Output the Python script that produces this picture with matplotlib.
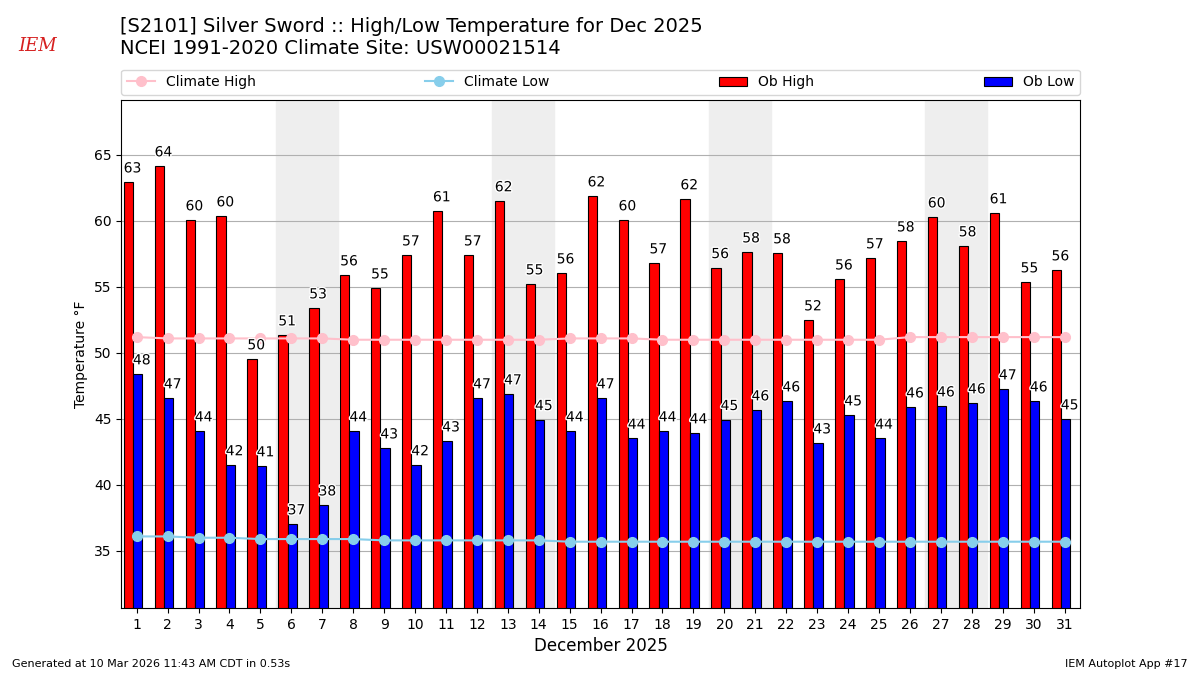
import matplotlib

matplotlib.use("Agg")
import matplotlib.pyplot as plt
import matplotlib.patheffects as pe
import numpy as np

DAYS = np.arange(1, 32)
OB_HIGH = [
    62.95, 64.17, 60.08, 60.38, 49.55, 51.36, 53.41, 55.91, 54.92, 57.42,
    60.76, 57.42, 61.52, 55.23, 56.06, 61.89, 60.08, 56.82, 61.67, 56.46,
    57.65, 57.58, 52.50, 55.60, 57.20, 58.48, 60.30, 58.11, 60.61, 55.38,
    56.29,
]
OB_LOW = [
    48.41, 46.59, 44.09, 41.52, 41.44, 37.05, 38.48, 44.09, 42.80, 41.52,
    43.33, 46.59, 46.89, 44.95, 44.09, 46.59, 43.53, 44.09, 43.94, 44.95,
    45.68, 46.36, 43.18, 45.30, 43.53, 45.90, 45.98, 46.21, 47.27, 46.36,
    45.00,
]
CLIMATE_HIGH = [
    51.2, 51.1, 51.1, 51.1, 51.1, 51.1, 51.1, 51.0, 51.0, 51.0,
    51.0, 51.0, 51.0, 51.0, 51.1, 51.1, 51.1, 51.0, 51.0, 51.0,
    51.0, 51.0, 51.0, 51.0, 51.0, 51.2, 51.2, 51.2, 51.2, 51.2,
    51.2,
]
CLIMATE_LOW = [
    36.1, 36.1, 36.0, 36.0, 35.9, 35.9, 35.9, 35.9, 35.8, 35.8,
    35.8, 35.8, 35.8, 35.8, 35.7, 35.7, 35.7, 35.7, 35.7, 35.7,
    35.7, 35.7, 35.7, 35.7, 35.7, 35.7, 35.7, 35.7, 35.7, 35.7,
    35.7,
]
WEEKENDS = [6, 13, 20, 27]


def label_bars(ax, xs, values):
    for x, val in zip(xs, values):
        ax.text(
            x, val + 0.5, f"{val:.0f}", ha="left", va="bottom", fontsize=10,
            path_effects=[pe.withStroke(linewidth=2, foreground="white")],
            zorder=5,
        )


def main():
    fig = plt.figure(figsize=(12, 6.75), dpi=100)
    ax = fig.add_axes([0.101, 0.0993, 0.799, 0.7527])

    for sat in WEEKENDS:
        ax.axvspan(sat - 0.5, sat + 1.5, color="#eeeeee", zorder=0)

    high_x = DAYS - 0.42
    low_x = DAYS - 0.12
    ax.bar(high_x, OB_HIGH, width=0.3, align="edge", color="r",
           edgecolor="k", linewidth=0.8, label="Ob High", zorder=2)
    ax.bar(low_x, OB_LOW, width=0.3, align="edge", color="b",
           edgecolor="k", linewidth=0.8, label="Ob Low", zorder=2)
    label_bars(ax, high_x, OB_HIGH)
    label_bars(ax, low_x, OB_LOW)

    ax.plot(DAYS, CLIMATE_HIGH, color="pink", marker="o", markersize=7,
            linewidth=1.5, label="Climate High", zorder=3)
    ax.plot(DAYS, CLIMATE_LOW, color="skyblue", marker="o", markersize=7,
            linewidth=1.5, label="Climate Low", zorder=3)

    ax.set_xlim(0.5, 31.5)
    ax.set_ylim(30.68, 69.17)
    ax.set_xticks(DAYS)
    ax.set_yticks(np.arange(35, 66, 5))
    ax.tick_params(labelsize=10)
    ax.yaxis.grid(True, color="#b0b0b0")
    ax.set_axisbelow(True)
    ax.set_ylabel("Temperature °F", fontsize=10)
    ax.set_xlabel("December 2025", fontsize=12)

    handles, labels = ax.get_legend_handles_labels()
    order = [labels.index(n) for n in
             ["Climate High", "Climate Low", "Ob High", "Ob Low"]]
    ax.legend(
        [handles[i] for i in order], [labels[i] for i in order],
        loc="lower left", bbox_to_anchor=(0, 1.01, 1, 0.1), mode="expand",
        ncol=4, borderaxespad=0, fontsize=10,
    )

    fig.text(0.1, 0.975,
             "[S2101] Silver Sword :: High/Low Temperature for Dec 2025\n"
             "NCEI 1991-2020 Climate Site: USW00021514",
             ha="left", va="top", fontsize=14)
    fig.text(0.031, 0.925, "IEM", color="#d62020", fontsize=13,
             family="DejaVu Serif", style="italic", ha="center")
    fig.text(0.01, 0.012, "Generated at 10 Mar 2026 11:43 AM CDT in 0.53s",
             fontsize=8)
    fig.text(0.99, 0.012, "IEM Autoplot App #17", fontsize=8, ha="right")

    fig.savefig("out.png", dpi=100)


if __name__ == "__main__":
    main()
